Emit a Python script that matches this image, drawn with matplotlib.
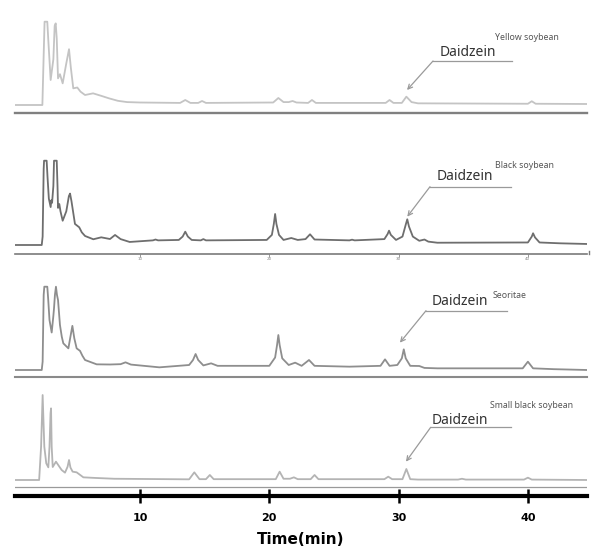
import matplotlib.pyplot as plt
from matplotlib.lines import Line2D

W, H = 594, 552

# retention time (min) / detector signal (relative units)
yellow_t = [0.3, 2.45, 2.55, 2.62, 2.83, 2.9, 3.09, 3.3, 3.4, 3.48, 3.56, 3.66, 3.81, 4.02, 4.3, 4.51,
            4.65, 4.84, 5.15, 5.4, 5.75, 6.37, 7.0, 7.6, 8.3, 9.0, 10.0, 13.1, 13.5, 13.9, 14.5, 14.8,
            15.1, 20.3, 20.7, 21.1, 21.5, 21.8, 22.1, 23.0, 23.3, 23.6, 29.0, 29.3, 29.6, 30.25, 30.6,
            31.0, 31.5, 40.0, 40.3, 40.6, 44.6]
yellow_v = [0, 0, 60, 100, 100, 80, 30, 55, 95, 98, 80, 32, 37, 26, 50, 67,
            45, 20, 21, 16, 12, 14, 11, 8, 5, 3.5, 3, 2.5, 6, 2.5, 2.5, 4.8,
            2.5, 3, 8.4, 3.5, 3.5, 4.8, 3, 2.5, 6, 2.5, 2.5, 6, 2.5, 2.5, 10,
            3.5, 2, 1.5, 4.5, 1.5, 1.2]

black_t = [0.3, 2.4, 2.47, 2.55, 2.58, 2.78, 2.85, 2.95, 3.09, 3.14, 3.2, 3.3, 3.35, 3.56, 3.62, 3.66,
           3.76, 3.85, 4.02, 4.3, 4.5, 4.59, 4.7, 4.97, 5.3, 5.5, 5.75, 6.39, 7.0, 7.68, 8.07, 8.5,
           9.2, 11.0, 11.2, 11.4, 13.0, 13.3, 13.5, 13.7, 14.0, 14.7, 14.9, 15.1, 19.8, 20.2, 20.35,
           20.45, 20.55, 20.75, 21.1, 21.7, 22.2, 22.8, 23.15, 23.5, 26.2, 26.4, 26.6, 28.9, 29.15,
           29.26, 29.4, 29.8, 30.3, 30.55, 30.67, 30.8, 31.1, 31.6, 32.0, 32.3, 33.0, 40.0, 40.3,
           40.4, 40.55, 40.9, 42.5, 44.6]
black_v = [0, 0, 10, 90, 100, 100, 80, 55, 45, 53, 50, 70, 100, 100, 70, 44,
           48.6, 40, 28.8, 40, 58, 61, 52, 25, 21, 15, 10.7, 6.8, 9.1, 7.1, 11.9, 7,
           3.6, 5.5, 6.5, 5.5, 6, 10, 15.8, 10, 6, 5.5, 7, 5.5, 6, 12, 25,
           36.8, 25, 12, 6, 8.3, 6, 7, 12.7, 6.5, 5.5, 6.3, 5.5, 7, 13,
           17, 12, 6, 10, 24, 30.5, 22, 10, 5, 6.5, 4, 2.7, 3, 10,
           13.9, 9, 3, 2, 1.2]

seoritae_t = [0.3, 2.4, 2.47, 2.55, 2.6, 2.83, 2.9, 3.0, 3.17, 3.3, 3.35, 3.42, 3.5, 3.58, 3.66, 3.73,
              3.81, 3.95, 4.07, 4.46, 4.62, 4.77, 4.92, 5.1, 5.36, 5.55, 5.75, 6.65, 7.68, 8.5, 8.88,
              9.3, 11.5, 13.8, 14.1, 14.3, 14.5, 14.9, 15.5, 16.0, 20.0, 20.45, 20.6, 20.7, 20.8, 21.0,
              21.5, 22.0, 22.5, 23.07, 23.5, 26.2, 28.6, 28.95, 29.3, 29.9, 30.25, 30.4, 30.55, 30.9,
              31.6, 32.0, 33.0, 39.6, 40.0, 40.4, 42.0, 44.6]
seoritae_v = [0, 0, 10, 90, 100, 100, 85, 60, 45, 65, 74, 90, 100, 90, 84, 70,
              54, 40, 32, 26, 40, 53, 38, 26, 23, 17, 12, 6.8, 6.6, 7, 9.2,
              6.5, 3.2, 6, 12, 19.2, 12, 5.5, 8, 5, 5, 15, 30, 42, 30, 14,
              6, 8.8, 5, 12, 5, 4, 5, 12.8, 5, 6, 14, 24.8, 14, 5,
              4.8, 2.5, 2, 2, 10, 2, 1, 0]

small_t = [0.3, 2.2, 2.35, 2.47, 2.6, 2.75, 2.91, 3.0, 3.08, 3.12, 3.17, 3.25, 3.5, 3.94, 4.2, 4.4,
           4.51, 4.62, 4.79, 5.1, 5.62, 6.5, 8.0, 13.8, 14.2, 14.6, 15.1, 15.4, 15.7, 20.5, 20.8,
           21.1, 21.6, 21.9, 22.2, 23.2, 23.5, 23.8, 28.9, 29.2, 29.5, 30.3, 30.6, 30.9, 31.5, 34.6,
           34.9, 35.2, 39.7, 40.0, 40.3, 44.6]
small_v = [0, 0, 40, 102, 40, 20, 15.2, 40, 80, 86, 40, 15.6, 22, 12, 8.8, 16,
           24, 15, 10, 9.2, 3.2, 2.5, 1.5, 0.8, 9.2, 1, 1, 6, 1, 1, 10,
           1.5, 1.5, 3.2, 1, 1, 6, 1, 1, 4, 1, 1, 13.2, 1, 0.5, 0.5,
           1.5, 0.5, 0.5, 2.8, 0.5, 0]

samples = ['Yellow soybean', 'Black soybean', 'Seoritae', 'Small black soybean']
times = [yellow_t, black_t, seoritae_t, small_t]
signals = [yellow_v, black_v, seoritae_v, small_v]
# daidzein arrow tip (time, signal)
daid_t = [30.65, 30.67, 30.1, 30.57]
daid_v = [18, 33.6, 32.8, 22]
xticks = [10, 20, 30, 40]

# layout in pixels: axis line y, trace baseline y, px per unit
spine_px = [112.5, 254, 377, 496]
base_px = [105, 245, 370, 480]
scale = [0.833, 0.843, 0.833, 0.833]
trace_col = ['#c4c4c4', '#6e6e6e', '#8e8e8e', '#b4b4b4']
spine_col = ['#808080', '#7a7a7a', '#8a8a8a', 'black']
spine_lw = [1.7, 1.2, 1.5, 3.0]
# annotation text positions in pixels
daid_txt = [(440, 52.7), (436.7, 176.7), (431.7, 301.7), (432, 421)]
under = [(433, 511.7, 61), (430, 510.7, 186.7), (426, 506.7, 310.7), (430.7, 510.7, 427.3)]
name_pos = [(495, 37.7), (495, 165), (492.7, 295), (490, 406)]

def fx(x):
    return x / W

def fy(y):
    return 1 - y / H

fig = plt.figure(figsize=(W / 100, H / 100), dpi=100)
x0, x1 = 15, 587
t0, t1 = (x0 - 10.7) / 12.93, (x1 - 10.7) / 12.93

for i in range(4):
    h = 105
    ax = fig.add_axes([fx(x0), fy(spine_px[i]), (x1 - x0) / W, h / H])
    ymin = -(spine_px[i] - base_px[i]) / scale[i]
    ax.set_ylim(ymin, ymin + h / scale[i])
    ax.set_xlim(t0, t1)
    ax.plot(times[i], signals[i], color=trace_col[i], lw=1.3, solid_joinstyle='round')
    for s in ['top', 'left', 'right']:
        ax.spines[s].set_visible(False)
    ax.spines['bottom'].set_color(spine_col[i])
    ax.spines['bottom'].set_linewidth(spine_lw[i])
    ax.set_yticks([])
    ax.set_facecolor('none')

    if i == 1:
        ax.set_xticks(xticks)
        ax.tick_params(axis='x', length=2, width=0.6, color='#888', labelsize=3,
                       labelcolor='#888', pad=0.5)
        ax.plot([1.003, 1.003], [0, 0.03], transform=ax.transAxes, color='#7a7a7a',
                lw=1, clip_on=False)
    elif i == 3:
        ax.set_xticks(xticks)
        ax.tick_params(axis='x', direction='inout', length=10, width=1.8, color='black',
                       labelsize=8, pad=7.5)
        for lab in ax.get_xticklabels():
            lab.set_fontweight('bold')
        ax.set_xlabel('Time(min)', fontsize=11, fontweight='bold', labelpad=6)
        ax.axhline(-(spine_px[i] - 489) / scale[i], color='#9a9a9a', lw=0.9)
    else:
        ax.set_xticks([])

    ax.annotate('', xy=(daid_t[i], daid_v[i]), xycoords='data',
                xytext=(fx(under[i][0]), fy(under[i][2])), textcoords='figure fraction',
                arrowprops=dict(arrowstyle='->', color='#9a9a9a', lw=0.9,
                                shrinkA=0, shrinkB=0, mutation_scale=8))
    fig.add_artist(Line2D([fx(under[i][0]), fx(under[i][1])], [fy(under[i][2])] * 2,
                          color='#9a9a9a', lw=0.9))
    fig.text(fx(daid_txt[i][0]), fy(daid_txt[i][1]), 'Daidzein', fontsize=10,
             family='Noto Sans', color='#333333', va='center', ha='left')
    fig.text(fx(name_pos[i][0]), fy(name_pos[i][1]), samples[i], fontsize=6.3,
             family='Noto Sans', color='#555555', va='center', ha='left')

plt.savefig('out.png', dpi=100)
